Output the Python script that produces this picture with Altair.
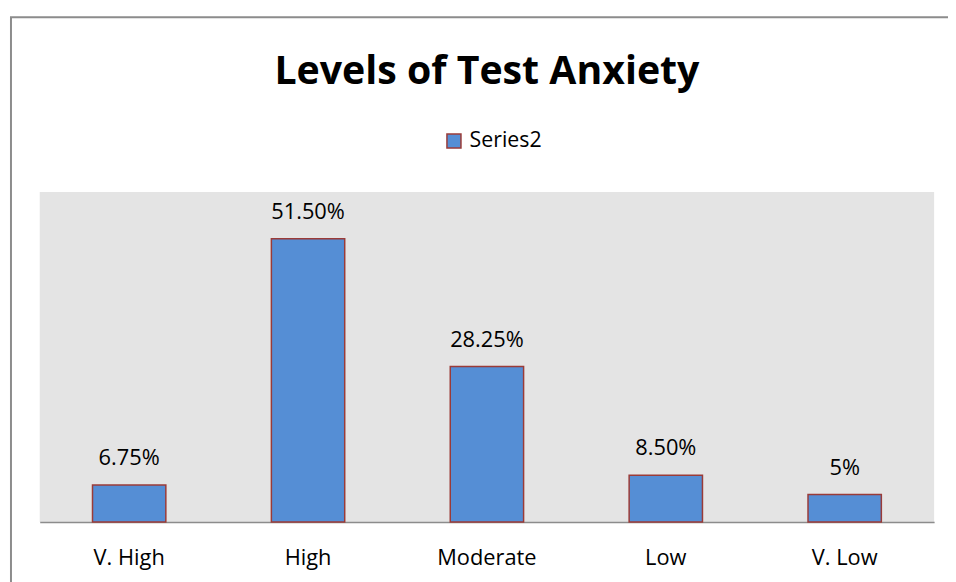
import altair as alt
import pandas as pd

categories = ["V. High", "High", "Moderate", "Low", "V. Low"]
values = [6.75, 51.50, 28.25, 8.50, 5.0]
labels = ["6.75%", "51.50%", "28.25%", "8.50%", "5%"]
series = ["Series2"] * 5
title_text = "Levels of Test Anxiety"

df = pd.DataFrame({"cat": categories, "val": values, "lab": labels, "series": series})

FONT = "Open Sans"

x = alt.X("cat:N", sort=categories, title=None,
          scale=alt.Scale(paddingInner=0.59, paddingOuter=0.295),
          axis=alt.Axis(labelAngle=0, labelFontSize=22, labelFont=FONT, labelColor="#000000",
                        ticks=False, tickSize=0, labelPadding=36, labelBaseline="middle",
                        domainColor="#8C8C8C", domainWidth=1.5, grid=False))
y = alt.Y("val:Q", scale=alt.Scale(domain=[0, 60], nice=False), axis=None)

bars = alt.Chart(df).mark_bar(stroke="#9A3B38", strokeWidth=1.5).encode(
    x=x, y=y,
    color=alt.Color("series:N", scale=alt.Scale(domain=["Series2"], range=["#558ED5"]),
                    legend=alt.Legend(title=None, orient="none", legendX=407, legendY=-62,
                                      symbolType="square", symbolSize=200,
                                      symbolStrokeColor="#9A3B38", symbolStrokeWidth=1.5,
                                      symbolOpacity=1, labelFont=FONT, labelFontSize=21.5,
                                      labelColor="#000000", labelOffset=5))
)

text = alt.Chart(df).mark_text(font=FONT, fontSize=22, baseline="alphabetic", dy=-20,
                               color="#000000").encode(
    x=alt.X("cat:N", sort=categories), y="val:Q", text="lab:N")

title = alt.Chart(pd.DataFrame({"t": [title_text]})).mark_text(
    font=FONT, fontSize=39.6, fontWeight="bold", baseline="alphabetic", color="#000000"
).encode(x=alt.value(451), y=alt.value(81.7 - 191), text="t:N")

border = alt.Chart(pd.DataFrame({"d": [0]})).mark_rect(
    fillOpacity=0, stroke="#8C8C8C", strokeWidth=2
).encode(x=alt.value(-29), x2=alt.value(1000), y=alt.value(-176), y2=alt.value(500))

chart = alt.layer(border, bars, text, title).properties(
    width=902, height=333,
    background="#FFFFFF",
    autosize=alt.AutoSizeParams(type="none"),
    padding={"left": 32, "top": 183, "right": 14, "bottom": 58},
).configure_view(fill="#E4E4E4", strokeWidth=0)

chart.save("out.html", embed_options={"renderer": "svg", "actions": False})
